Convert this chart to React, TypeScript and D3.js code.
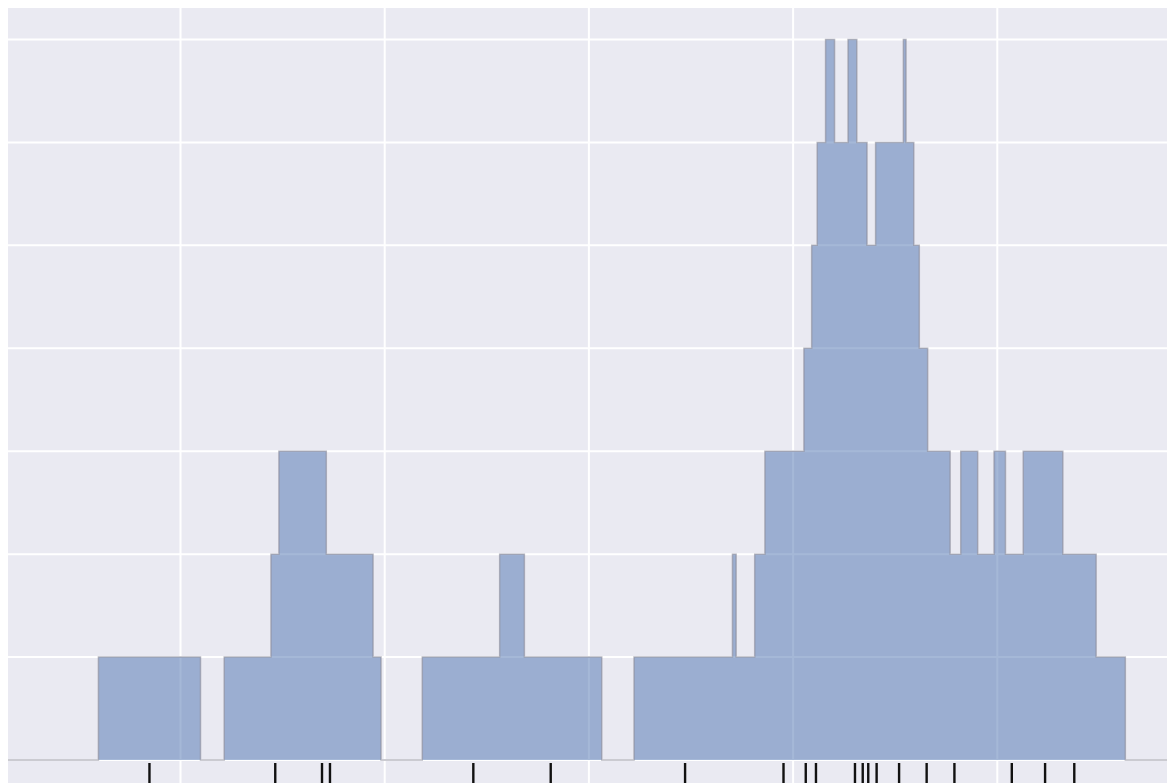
import React from "react";
import * as d3 from "d3";

// Observations shown as a rug and summed with a top-hat (box) kernel
const samples: number[] = [
  0.848, 1.464, 1.693, 1.732, 2.434, 2.813, 3.471, 3.953, 4.062, 4.112,
  4.303, 4.341, 4.368, 4.409, 4.519, 4.654, 4.79, 5.071, 5.234, 5.377,
];
const halfWidth = 0.25;
const xTicks: number[] = [1, 2, 3, 4, 5];
const yTicks: number[] = [0, 1, 2, 3, 4, 5, 6, 7];

const W = 1170;
const H = 783;
const plot = { left: 8, top: 8, right: 1167, bottom: 800 };

export default function App() {
  const x = d3.scaleLinear().domain([1, 5]).range([180.5, 997.3]);
  const y = d3.scaleLinear().domain([0, 7]).range([760, 39.5]);

  const xMin = x.invert(plot.left);
  const xMax = x.invert(plot.right);

  // Step function: number of boxes covering each interval between edges
  const edges = Array.from(
    new Set([xMin, xMax, ...samples.flatMap((s) => [s - halfWidth, s + halfWidth])])
  )
    .filter((v) => v >= xMin && v <= xMax)
    .sort((a, b) => a - b);
  const steps: [number, number][] = edges.map((e, i) => {
    const next = i < edges.length - 1 ? edges[i + 1] : e + 1e-6;
    const mid = (e + next) / 2;
    const c = samples.filter((s) => Math.abs(mid - s) < halfWidth).length;
    return [e, i < edges.length - 1 ? c : 0];
  });

  const area = d3
    .area<[number, number]>()
    .x((d) => x(d[0]))
    .y0(y(0))
    .y1((d) => y(d[1]))
    .curve(d3.curveStepAfter);
  const line = d3
    .line<[number, number]>()
    .x((d) => x(d[0]))
    .y((d) => y(d[1]))
    .curve(d3.curveStepAfter);

  return (
    <svg
      width={W}
      height={H}
      style={{ position: "absolute", left: 0, top: 0, background: "#ffffff" }}
    >
      <defs>
        <clipPath id="plot-clip">
          <rect
            x={plot.left}
            y={plot.top}
            width={plot.right - plot.left}
            height={plot.bottom - plot.top}
          />
        </clipPath>
      </defs>
      <rect
        x={plot.left}
        y={plot.top}
        width={plot.right - plot.left}
        height={plot.bottom - plot.top}
        fill="#EAEAF2"
      />
      <g clipPath="url(#plot-clip)">
        {xTicks.map((t) => (
          <line
            key={`gx${t}`}
            x1={x(t)}
            x2={x(t)}
            y1={plot.top}
            y2={plot.bottom}
            stroke="#ffffff"
            strokeWidth={2}
          />
        ))}
        {yTicks.map((t) => (
          <line
            key={`gy${t}`}
            x1={plot.left}
            x2={plot.right}
            y1={y(t)}
            y2={y(t)}
            stroke="#ffffff"
            strokeWidth={2}
          />
        ))}
        <path d={area(steps) ?? ""} fill="#4C72B0" fillOpacity={0.5} />
        <path
          d={line(steps) ?? ""}
          fill="none"
          stroke="#8c8c99"
          strokeOpacity={0.6}
          strokeWidth={1.5}
        />
        {samples.map((s, i) => (
          <line
            key={`rug${i}`}
            x1={x(s)}
            x2={x(s)}
            y1={763}
            y2={plot.bottom}
            stroke="#111111"
            strokeWidth={2.4}
          />
        ))}
      </g>
    </svg>
  );
}
